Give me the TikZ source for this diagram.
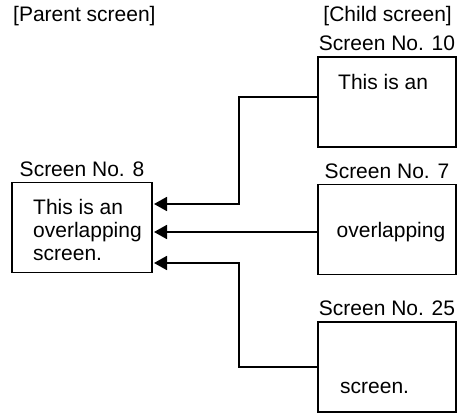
\documentclass[tikz,border=0pt]{standalone}
\usepackage{fontspec}
\setmainfont{Liberation Sans}
\usepackage{tikz}
\usetikzlibrary{arrows.meta}

\begin{document}
\begin{tikzpicture}[x=1pt, y=-1pt,
  every node/.style={font=\fontsize{21pt}{23pt}\selectfont},
  screen/.style={draw, line width=1.9pt, minimum width=138pt, minimum height=90pt, inner sep=0pt},
  title/.style={inner sep=0pt, label distance=5pt},
  wire/.style={line width=1.8pt, -{Triangle[length=13pt, width=14pt]}}]

\useasboundingbox (0,0) rectangle (458,414);

% Headings
\node[anchor=base west, inner sep=0pt] (parhead) at (13,22) {[Parent screen]};
\node[anchor=base east, inner sep=0pt] (chhead) at (452,22) {[Child screen]};

% Parent screen
\node[screen, minimum width=140pt, label={[title]above:Screen No. 8}] (scr8) at (82,227.5) {};
\node[anchor=base west, inner sep=0pt] (txt8a) at (33,215) {This is an};
\node[anchor=base west, inner sep=0pt] (txt8b) at (33,238) {overlapping};
\node[anchor=base west, inner sep=0pt] (txt8c) at (33,261) {screen.};

% Child screens
\node[screen, label={[title]above:Screen No. 10}] (scr10) at (387,102) {};
\node[anchor=base west, inner sep=0pt] (txt10) at (338,90) {This is an};

\node[screen, label={[title]above:Screen No. 7}] (scr7) at (387,229.5) {};
\node[anchor=base, inner sep=0pt] (txt7) at (391,238) {overlapping};

\node[screen, label={[title]above:Screen No. 25}] (scr25) at (387,367) {};
\node[anchor=base west, inner sep=0pt] (txt25) at (340,393) {screen.};

% Connectors
\coordinate (knee10) at (239,97);
\coordinate (knee25) at (239,367);
\coordinate (tip10) at (154,204);
\coordinate (tip7) at (154,232);
\coordinate (tip25) at (154,263);

\draw[wire] (scr10.west |- knee10) -- (knee10) |- (tip10);
\draw[wire] (scr7.west |- tip7) -- (tip7);
\draw[wire] (scr25.west |- knee25) -- (knee25) |- (tip25);

\end{tikzpicture}
\end{document}
